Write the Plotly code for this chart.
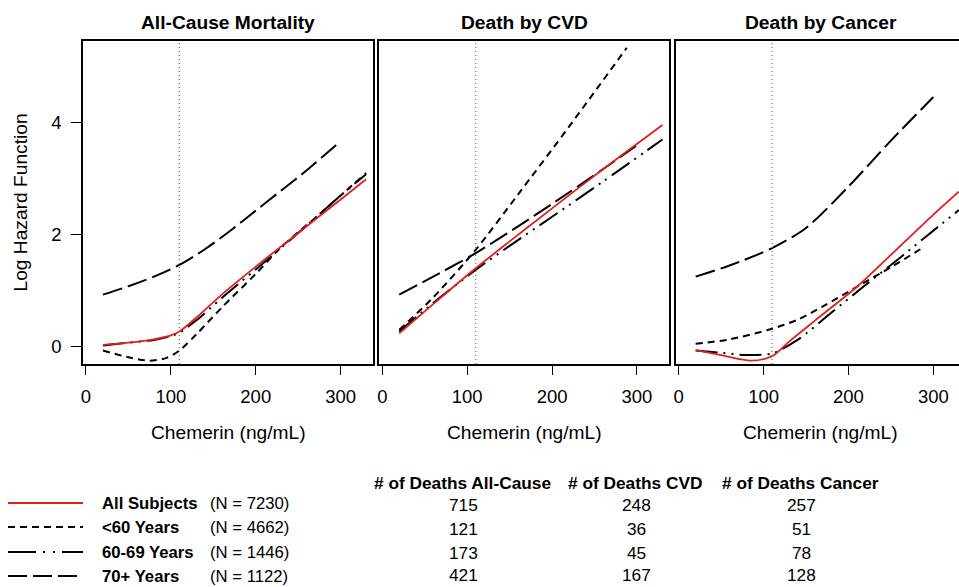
import plotly.graph_objects as go

# ---------------- data ----------------
PANEL_TITLES = ["All-Cause Mortality", "Death by CVD", "Death by Cancer"]
X_TITLE = "Chemerin (ng/mL)"
Y_TITLE = "Log Hazard Function"
CUTOFF = 110
X_TICKS = [0, 100, 200, 300]
Y_TICKS = [0, 2, 4]

# All-cause mortality
ac_all_x = [20, 50, 80, 100, 110, 130, 160, 200, 250, 300, 330]
ac_all_y = [0.03, 0.07, 0.13, 0.20, 0.27, 0.52, 0.93, 1.43, 2.03, 2.63, 2.99]
ac_lt60_x = [20, 50, 75, 95, 110, 130, 160, 200, 230, 270, 300, 330]
ac_lt60_y = [-0.07, -0.19, -0.25, -0.20, -0.07, 0.22, 0.70, 1.30, 1.78, 2.30, 2.70, 3.10]
ac_6069_x = [20, 50, 80, 100, 110, 130, 160, 200, 250, 300, 330]
ac_6069_y = [0.02, 0.07, 0.12, 0.19, 0.25, 0.47, 0.87, 1.38, 2.03, 2.70, 3.08]
ac_70p_x = [20, 50, 80, 110, 140, 170, 200, 230, 260, 300]
ac_70p_y = [0.93, 1.08, 1.25, 1.46, 1.74, 2.07, 2.43, 2.79, 3.15, 3.67]

# Death by CVD
cvd_all_x = [20, 60, 110, 150, 200, 260, 330]
cvd_all_y = [0.24, 0.76, 1.40, 1.88, 2.47, 3.17, 3.96]
cvd_lt60_x = [20, 60, 110, 160, 220, 288]
cvd_lt60_y = [0.30, 0.88, 1.73, 2.72, 3.93, 5.34]
cvd_6069_x = [20, 60, 110, 150, 200, 260, 330]
cvd_6069_y = [0.27, 0.78, 1.37, 1.80, 2.32, 2.95, 3.70]
cvd_70p_x = [20, 60, 110, 160, 200, 260, 300]
cvd_70p_y = [0.93, 1.25, 1.67, 2.15, 2.55, 3.17, 3.60]

# Death by cancer
can_all_x = [20, 50, 85, 110, 130, 160, 210, 250, 300, 330]
can_all_y = [-0.06, -0.15, -0.25, -0.17, 0.09, 0.46, 1.07, 1.64, 2.36, 2.77]
can_lt60_x = [20, 60, 110, 140, 170, 210, 250, 290]
can_lt60_y = [0.05, 0.13, 0.32, 0.48, 0.72, 1.07, 1.42, 1.79]
can_6069_x = [20, 50, 80, 110, 140, 180, 220, 260, 290, 330]
can_6069_y = [-0.07, -0.11, -0.15, -0.12, 0.12, 0.61, 1.10, 1.58, 1.95, 2.44]
can_70p_x = [20, 60, 110, 150, 200, 250, 300]
can_70p_y = [1.25, 1.45, 1.76, 2.12, 2.86, 3.68, 4.46]

GROUP_NAMES = ["All Subjects", "<60 Years", "60-69 Years", "70+ Years"]
GROUP_N = ["(N = 7230)", "(N = 4662)", "(N = 1446)", "(N = 1122)"]
TABLE_HEADERS = ["# of Deaths All-Cause", "# of Deaths CVD", "# of Deaths Cancer"]
deaths_allcause = [715, 121, 173, 421]
deaths_cvd = [248, 36, 45, 167]
deaths_cancer = [257, 51, 78, 128]

# ---------------- styling ----------------
W, H = 959, 587
FONT = "Liberation Sans, Arial, sans-serif"
PLOT_DASH = ["solid", "7px,5px", "22px,6px,2px,6px,2px,6px", "20px,6px"]
LEG_DASH = ["solid", "7px,5px", "28px,7px,2px,8px,2px,7px", "19px,6px"]
COLORS = ["#e0201b", "black", "black", "black"]
WIDTHS = [1.8, 2, 2, 2]

def px(x):
    return x / W

def py(y):
    return 1 - y / H

panels = [
    [(ac_all_x, ac_all_y), (ac_lt60_x, ac_lt60_y), (ac_6069_x, ac_6069_y), (ac_70p_x, ac_70p_y)],
    [(cvd_all_x, cvd_all_y), (cvd_lt60_x, cvd_lt60_y), (cvd_6069_x, cvd_6069_y), (cvd_70p_x, cvd_70p_y)],
    [(can_all_x, can_all_y), (can_lt60_x, can_lt60_y), (can_6069_x, can_6069_y), (can_70p_x, can_70p_y)],
]

# panel boxes in pixels
box_left = [83, 379.3, 675.7]
box_right = [373.3, 669, 959]
box_top, box_bottom = 41, 364
PXPU = 0.849  # pixels per x unit
X0 = -3.5
Y_RANGE = [-0.31, 5.46]

fig = go.Figure()

# draw order: dashed groups first, red last on top
order = [3, 1, 2, 0]
for p, groups in enumerate(panels):
    sfx = "" if p == 0 else str(p + 1)
    for g in order:
        xs, ys = groups[g]
        fig.add_trace(go.Scatter(
            x=xs, y=ys, mode="lines",
            line=dict(color=COLORS[g], width=WIDTHS[g], dash=PLOT_DASH[g], shape="spline", smoothing=0.8),
            xaxis="x" + sfx, yaxis="y" + sfx, showlegend=False, hoverinfo="skip"))

layout = dict(
    width=W, height=H, autosize=False,
    margin=dict(l=0, r=0, t=0, b=0),
    paper_bgcolor="white", plot_bgcolor="white",
    font=dict(family=FONT, color="black"),
    showlegend=False,
)

shapes = []
annotations = []
for p in range(3):
    sfx = "" if p == 0 else str(p + 1)
    width_px = box_right[p] - box_left[p]
    xr = [X0, X0 + width_px / PXPU]
    is_last = p == 2
    layout["xaxis" + sfx] = dict(
        domain=[px(box_left[p]), px(box_right[p])], range=xr,
        anchor="y" + sfx, showgrid=False, zeroline=False,
        showline=True, mirror=True, linecolor="black", linewidth=1.6,
        ticks="outside", ticklen=9, tickwidth=1.3, tickcolor="black",
        tickvals=X_TICKS, ticktext=[str(v) for v in X_TICKS],
        tickfont=dict(size=18.5, family=FONT, color="black"),
        ticklabelstandoff=6, automargin=False, fixedrange=True)
    layout["yaxis" + sfx] = dict(
        domain=[py(box_bottom), py(box_top)], range=Y_RANGE,
        anchor="x" + sfx, showgrid=False, zeroline=False,
        showline=True, mirror=(not is_last), linecolor="black", linewidth=1.6,
        ticks="outside" if p == 0 else "", ticklen=10, tickwidth=1.3, tickcolor="black",
        tickvals=Y_TICKS, ticktext=[str(v) for v in Y_TICKS],
        showticklabels=(p == 0),
        tickfont=dict(size=18.5, family=FONT, color="black"),
        ticklabelstandoff=6, automargin=False, fixedrange=True)
    # vertical dotted cutoff line
    shapes.append(dict(type="line", xref="x" + sfx, yref="y" + sfx + " domain",
                       x0=CUTOFF, x1=CUTOFF, y0=0, y1=1,
                       line=dict(color="#7a7a7a", width=1.3, dash="1px,3px")))
    center = (box_left[p] + box_left[p] + 290.3) / 2
    annotations.append(dict(text="<b>" + PANEL_TITLES[p] + "</b>", x=px(center), y=py(22.5),
                            xref="paper", yref="paper", showarrow=False,
                            xanchor="center", yanchor="middle",
                            font=dict(size=19.2, family=FONT, color="black")))
    annotations.append(dict(text=X_TITLE, x=px(center), y=py(432), xref="paper", yref="paper",
                            showarrow=False, xanchor="center", yanchor="middle",
                            font=dict(size=19.2, family=FONT, color="black")))

annotations.append(dict(text=Y_TITLE, x=px(20), y=py((box_top + box_bottom) / 2),
                        xref="paper", yref="paper", showarrow=False, textangle=-90,
                        xanchor="center", yanchor="middle",
                        font=dict(size=19.2, family=FONT, color="black")))

# legend + table
row_y = [503, 527, 552, 576]
val_y = [505, 529, 553, 575]
for i in range(4):
    shapes.append(dict(type="line", xref="paper", yref="paper",
                       x0=px(8), x1=px(83), y0=py(row_y[i]), y1=py(row_y[i]),
                       line=dict(color=COLORS[i], width=2, dash=LEG_DASH[i])))
    annotations.append(dict(text="<b>" + GROUP_NAMES[i].replace("<", "&lt;") + "</b>",
                            x=px(100), y=py(row_y[i]), xref="paper", yref="paper",
                            showarrow=False, xanchor="left", yanchor="middle",
                            font=dict(size=16.7, family=FONT, color="black")))
    annotations.append(dict(text=GROUP_N[i], x=px(208), y=py(row_y[i]), xref="paper", yref="paper",
                            showarrow=False, xanchor="left", yanchor="middle",
                            font=dict(size=16.7, family=FONT, color="black")))

col_centers = [462, 635, 800]
cols = [deaths_allcause, deaths_cvd, deaths_cancer]
for c in range(3):
    annotations.append(dict(text="<b>" + TABLE_HEADERS[c] + "</b>", x=px(col_centers[c]), y=py(483),
                            xref="paper", yref="paper", showarrow=False,
                            xanchor="center", yanchor="middle",
                            font=dict(size=17.3, family=FONT, color="black")))
    for i in range(4):
        annotations.append(dict(text=str(cols[c][i]), x=px(col_centers[c] + 1), y=py(val_y[i]),
                                xref="paper", yref="paper", showarrow=False,
                                xanchor="center", yanchor="middle",
                                font=dict(size=17.3, family=FONT, color="black")))

layout["shapes"] = shapes
layout["annotations"] = annotations
fig.update_layout(**layout)
fig.write_html("out.html", config={"displayModeBar": False},
               post_script="document.body.style.margin='0';document.body.style.overflow='hidden';")
